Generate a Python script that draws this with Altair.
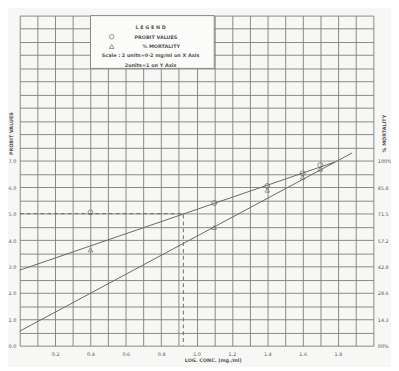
import altair as alt
import pandas as pd

# ---- data ----
log_conc = [0.4, 1.1, 1.4, 1.6, 1.7]
probit_values = [5.05, 5.4, 6.05, 6.53, 6.84]
mortality_units = [3.63, 4.48, 5.89, 6.38, 6.69]  # % mortality drawn on the 0-7 scale

probit_fit_x = [0.0, 1.78]
probit_fit_y = [2.86, 6.95]
mort_fit_x = [0.0, 1.88]
mort_fit_y = [0.55, 7.3]

dash_x = [0.0, 0.925, 0.925]
dash_y = [5.0, 5.0, 0.0]

x_grid = [round(i * 0.1, 1) for i in range(21)]
y_grid = [i * 0.5 for i in range(26)]
x_labels = ["0.2", "0.4", "0.6", "0.8", "1.0", "1.2", "1.4", "1.6", "1.8"]
right_labels = ["00%", "14.3", "28.6", "42.8", "57.2", "71.5", "85.8", "100%"]

legend_box = {"x": 0.4, "x2": 1.1, "y": 10.5, "y2": 12.5}
legend_text = ["L E G E N D", "PROBIT VALUES", "% MORTALITY",
               "Scale : 2 units=0\u00b72 mg/ml on X Axis", "2units=1 on Y Axis"]
legend_tx = [0.74, 0.77, 0.80, 0.74, 0.74]
legend_ty = [12.07, 11.7, 11.33, 11.0, 10.63]
legend_sym_x = [0.52, 0.52]
legend_sym_y = [11.7, 11.33]
legend_sym = ["circle", "triangle-up"]

GRID = "#7c7c7c"
INK = "#666666"
TXT = "#555555"
FONT = "DejaVu Sans"

xscale = alt.Scale(domain=[0, 2.0], nice=False, zero=False)
yscale = alt.Scale(domain=[0, 12.5], nice=False, zero=False)

x_axis = alt.Axis(values=x_grid, grid=True, gridColor=GRID, gridWidth=0.9, domain=False,
                  ticks=False, labelFontSize=5, labelColor=TXT, labelFont=FONT, labelPadding=6,
                  labelExpr="indexof(" + str(x_labels) + ", format(datum.value, '.1f')) >= 0 ? format(datum.value, '.1f') : ''",
                  title="LOG. CONC. (mg./ml)", titleFontSize=5, titleFont=FONT, titleColor=TXT,
                  titleFontWeight="bold", titleX=197, titleY=14, titleBaseline="middle")
X = lambda f: alt.X(f, type="quantitative", scale=xscale, axis=x_axis)

left_axis = alt.Axis(values=y_grid, grid=True, gridColor=GRID, gridWidth=0.9, domain=False,
                     ticks=False, labelFontSize=5, labelColor=TXT, labelFont=FONT, labelPadding=4,
                     labelExpr="datum.value <= 7 && datum.value % 1 == 0 ? format(datum.value, '.1f') : ''",
                     title="PROBIT VALUES", titleFontSize=5, titleFont=FONT, titleColor=TXT,
                     titleFontWeight="bold", titleAngle=270, titleX=-9, titleY=120,
                     titleAlign="center", titleBaseline="middle", orient="left")
right_axis = alt.Axis(values=list(range(8)), grid=False, domain=False, ticks=False,
                      labelFontSize=5, labelColor=TXT, labelFont=FONT, labelPadding=4,
                      labelExpr=str(right_labels) + "[datum.value]",
                      title="% MORTALITY", titleFontSize=5, titleFont=FONT, titleColor=TXT,
                      titleFontWeight="bold", titleAngle=270, titleX=10, titleY=120,
                      titleAlign="center", titleBaseline="middle", orient="right")

def Y(f, axis=None):
    return alt.Y(f, type="quantitative", scale=yscale, axis=axis)

pts = pd.DataFrame({"x": log_conc, "p": probit_values, "m": mortality_units})

base = alt.Chart(pts).mark_point(opacity=0).encode(x=X("x"), y=Y("p", left_axis))
right = alt.Chart(pd.DataFrame({"x": [0.0], "v": [0.0]})).mark_point(opacity=0).encode(
    x=X("x"), y=Y("v", right_axis))

box = alt.Chart(pd.DataFrame([legend_box])).mark_rect(
    fill="#fbfbfa", stroke=GRID, strokeWidth=0.9).encode(
    x=X("x"), x2="x2", y=Y("y"), y2="y2")

fit1 = alt.Chart(pd.DataFrame({"x": probit_fit_x, "y": probit_fit_y})).mark_line(
    color=INK, strokeWidth=1).encode(x=X("x"), y=Y("y"))
fit2 = alt.Chart(pd.DataFrame({"x": mort_fit_x, "y": mort_fit_y})).mark_line(
    color=INK, strokeWidth=1).encode(x=X("x"), y=Y("y"))
dash = alt.Chart(pd.DataFrame({"x": dash_x, "y": dash_y, "o": [0, 1, 2]})).mark_line(
    color=INK, strokeWidth=1, strokeDash=[4, 3]).encode(x=X("x"), y=Y("y"), order="o:O")

circ = alt.Chart(pts).mark_point(shape="circle", filled=False, color=INK, size=25,
                                 strokeWidth=1).encode(x=X("x"), y=Y("p"))
tri = alt.Chart(pts).mark_point(shape="triangle-up", filled=False, color=INK, size=22,
                                strokeWidth=1).encode(x=X("x"), y=Y("m"))

ltext = alt.Chart(pd.DataFrame({"x": legend_tx, "y": legend_ty, "t": legend_text})).mark_text(
    font=FONT, fontSize=5, fontWeight="bold", color=TXT).encode(x=X("x"), y=Y("y"), text="t:N")
lsym = alt.Chart(pd.DataFrame({"x": legend_sym_x, "y": legend_sym_y, "s": legend_sym})).mark_point(
    filled=False, color=INK, size=22, strokeWidth=1).encode(
    x=X("x"), y=Y("y"), shape=alt.Shape("s:N", scale=alt.Scale(domain=legend_sym, range=legend_sym), legend=None))

chart = alt.layer(base, box, fit1, fit2, dash, circ, tri, ltext, lsym, right).resolve_scale(
    y="independent").properties(
    width=361, height=337, background="#f7f7f5",
    autosize=alt.AutoSizeParams(type="none"),
    padding={"left": 12, "top": 4, "right": 18, "bottom": 18},
).configure_view(stroke=None)

chart.save("out.html", embed_options={"renderer": "svg", "actions": False})
